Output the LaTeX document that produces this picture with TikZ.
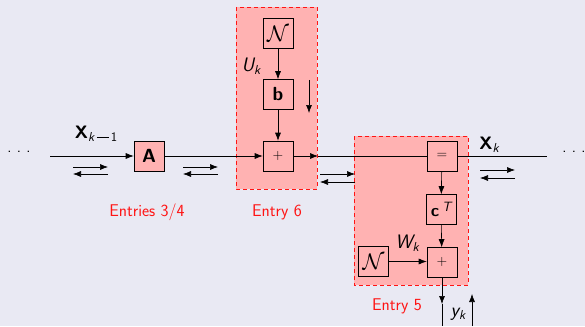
\RequirePackage{fix-cm}
\documentclass[tikz,border=0pt]{standalone}
\usepackage{fontspec}
\usepackage{graphicx}
\usetikzlibrary{arrows.meta}
\definecolor{bgc}{RGB}{233,233,243}
\definecolor{pinkc}{RGB}{255,178,178}
\definecolor{redc}{RGB}{255,20,20}
\newcommand{\subt}[1]{\raisebox{-3.5pt}{\fontsize{13}{15}\selectfont #1}}
\newcommand{\calN}{\scalebox{1.5}{$\mathcal{N}$}}
\begin{document}
\begin{tikzpicture}[x=1pt,y=-1pt,
  font=\sffamily\fontsize{15}{17}\selectfont,
  blk/.style={draw=black,fill=pinkc,minimum width=30pt,minimum height=30pt,inner sep=0pt,line width=0.6pt},
  zone/.style={draw=redc,dashed,fill=pinkc,line width=0.8pt,dash pattern=on 4pt off 3pt},
  con/.style={line width=0.6pt,-{Latex[length=8pt,width=6pt]}},
  ln/.style={line width=0.6pt},
  lbl/.style={font=\sffamily\fontsize{18}{21}\selectfont,inner sep=0pt},
  entry/.style={text=redc,font=\sffamily\fontsize{17}{19}\selectfont,inner sep=0pt}]
\useasboundingbox (0,0) rectangle (585,326);
\fill[bgc] (0,0) rectangle (585,326);
% zones
\draw[zone] (236,7) rectangle (317,189);
\draw[zone] (354,136) rectangle (468,285);
% blocks
\node[blk] (A) at (149,156) {\fontsize{19}{21}\selectfont\bfseries A};
\node[blk] (N1) at (278,33.5) {\calN};
\node[blk] (b) at (278,94.5) {\fontsize{19}{21}\selectfont\bfseries b};
\node[blk] (p1) at (278,156) {\fontsize{14}{16}\selectfont +};
\node[blk] (eq) at (442,156) {\fontsize{14}{16}\selectfont =};
\node[blk] (cT) at (441,209.5) {\fontsize{17}{21}\selectfont\bfseries c\,\raisebox{5.5pt}{\fontsize{13.5}{16}\selectfont\mdseries\itshape T}};
\node[blk] (p2) at (442,262.5) {\fontsize{14}{16}\selectfont +};
\node[blk] (N2) at (373.5,261.5) {\calN};
% coordinates
\coordinate (L) at (50,156);
\coordinate (M) at (318,156);
\coordinate (R) at (547,156);
\coordinate (yb) at (442,326);
\coordinate (yt) at (442,304);
\coordinate (ua) at (472,326);
\coordinate (ub) at (472,294);
\coordinate (da) at (309,80);
\coordinate (db) at (309,113);
% main connectors
\draw[con] (L) -- (A.west |- L);
\draw[con] (A.east) -- (p1.west);
\draw[con] (p1.east) -- (M);
\draw[ln] (M) -- (eq.west);
\draw[ln] (eq.east) -- (R);
\draw[con] (N1) -- (b);
\draw[con] (b) -- (p1);
\draw[con] (eq) -- (cT);
\draw[con] (cT) -- (p2);
\draw[con] (N2) -- (p2.west |- N2);
\draw[con] (p2.south) -- (yt);
\draw[ln] (yt) -- (yb);
\draw[con] (ua) -- (ub);
\draw[con] (da) -- (db);
% message arrow pairs
\foreach \n/\x/\ya/\yb in {a/73/167/174, b/183/167/174, c/320/174/182, d/480/170/178}{
  \coordinate (\n1) at (\x,\ya);
  \coordinate (\n2) at (\x+35,\ya);
  \coordinate (\n3) at (\x,\yb);
  \coordinate (\n4) at (\x+35,\yb);
  \draw[con] (\n1) -- (\n2);
  \draw[con] (\n4) -- (\n3);
}
% dots
\node[inner sep=0pt,font=\sffamily\fontsize{16}{18}\selectfont] (dl) at (19,152) {.\,\,.\,\,.};
\node[inner sep=0pt,font=\sffamily\fontsize{16}{18}\selectfont] (dr) at (574,152) {.\,\,.\,\,.};
% labels
\node[lbl] (xk1) at (96,134) {\bfseries X\subt{\mdseries\itshape k\upshape\hspace{2.5pt}\rule[4.2pt]{12pt}{0.7pt}\hspace{2pt}1}};
\node[lbl] (xk) at (489,145) {\bfseries X\subt{\mdseries\itshape k}};
\node[lbl,font=\sffamily\fontsize{19.5}{23}\selectfont] (uk) at (251,66) {\itshape U\subt{k}};
\node[lbl,font=\sffamily\fontsize{19.5}{23}\selectfont] (wk) at (407,243) {\itshape W\subt{k}};
\node[lbl,font=\sffamily\fontsize{19.5}{23}\selectfont] (yk) at (458,314) {\itshape y\subt{k}};
\node[entry] (e34) at (147,212) {Entries 3/4};
\node[entry] (e6) at (277,212) {Entry 6};
\node[entry] (e5) at (397,306) {Entry 5};
\end{tikzpicture}
\end{document}
